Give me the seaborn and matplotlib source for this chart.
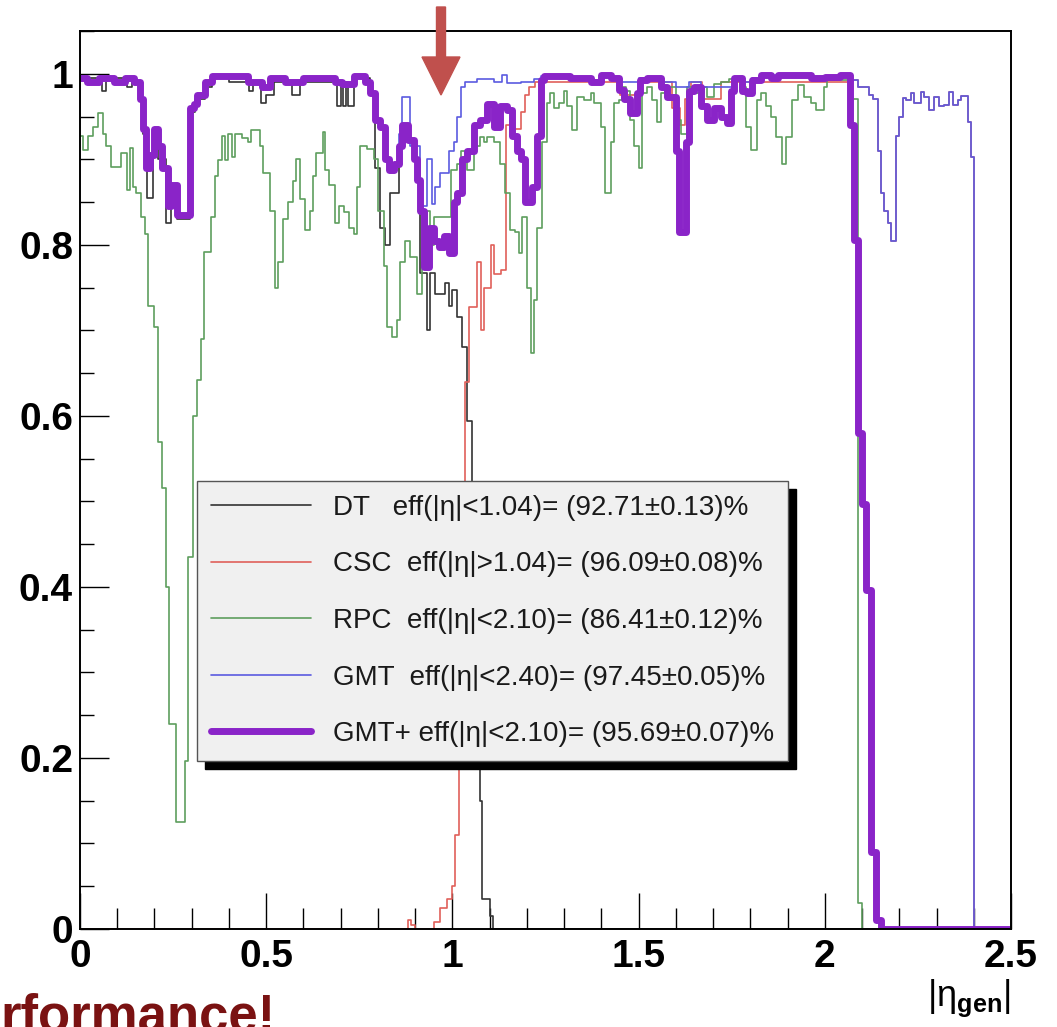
import numpy as np
import pandas as pd
import matplotlib
matplotlib.use("Agg")
import matplotlib.pyplot as plt
from matplotlib.patches import FancyArrow
from matplotlib.ticker import FixedLocator, MultipleLocator
import seaborn as sns

# ---------------- data ----------------
X_TICKS = [0, 0.5, 1, 1.5, 2, 2.5]
X_TICK_LABELS = ["0", "0.5", "1", "1.5", "2", "2.5"]
Y_TICKS = [0, 0.2, 0.4, 0.6, 0.8, 1.0]
Y_TICK_LABELS = ["0", "0.2", "0.4", "0.6", "0.8", "1"]

LABELS = [
    "DT   eff(|η|<1.04)= (92.71±0.13)%",
    "CSC  eff(|η|>1.04)= (96.09±0.08)%",
    "RPC  eff(|η|<2.10)= (86.41±0.12)%",
    "GMT  eff(|η|<2.40)= (97.45±0.05)%",
    "GMT+ eff(|η|<2.10)= (95.69±0.07)%",
]

DT_EDGES = [0, 0.06, 0.07, 0.125, 0.14, 0.16, 0.17, 0.18, 0.197, 0.21,
            0.232, 0.245, 0.26, 0.295, 0.31, 0.335, 0.355, 0.40, 0.455, 0.465,
            0.485, 0.50, 0.52, 0.57, 0.59, 0.69, 0.70, 0.705, 0.715, 0.72,
            0.735, 0.78, 0.793, 0.806, 0.82, 0.833, 0.856, 0.865, 0.882, 0.896,
            0.905, 0.914, 0.932, 0.941, 0.954, 0.981, 0.99, 0.999, 1.012, 1.026,
            1.039, 1.053, 1.063, 1.073, 1.08, 1.10, 1.11, 2.5]
DT_EFF = [0.995, 0.98, 0.995, 0.985, 0.99, 0.97, 0.93, 0.855, 0.93, 0.90,
          0.825, 0.86, 0.83, 0.955, 0.97, 0.985, 0.995, 0.99, 0.98, 0.99,
          0.966, 0.975, 0.99, 0.975, 0.99, 0.962, 0.99, 0.962, 0.99, 0.962,
          0.995, 0.977, 0.89, 0.82, 0.80, 0.86, 0.915, 0.94, 0.923, 0.90,
          0.876, 0.767, 0.70, 0.767, 0.743, 0.755, 0.728, 0.747, 0.716, 0.68,
          0.594, 0.45, 0.30, 0.15, 0.035, 0.015, 0.0]

CSC_EDGES = [0, 0.88, 0.89, 0.90, 0.95, 0.968, 0.986, 1.0, 1.008, 1.017,
             1.025, 1.033, 1.044, 1.067, 1.076, 1.085, 1.103, 1.112, 1.13, 1.143,
             1.16, 1.183, 1.195, 1.205, 1.222, 1.45, 1.50, 1.59, 1.61, 1.625,
             1.64, 1.67, 1.72, 2.068, 2.088, 2.12, 2.129, 2.142, 2.151, 2.16,
             2.169, 2.178, 2.191, 2.20, 2.209, 2.218, 2.231, 2.24, 2.258, 2.267,
             2.28, 2.294, 2.307, 2.321, 2.334, 2.343, 2.357, 2.366, 2.384, 2.393,
             2.40, 2.5]
CSC_EFF = [0.0, 0.01, 0.005, 0.0, 0.008, 0.025, 0.035, 0.05, 0.11, 0.30,
           0.50, 0.64, 0.727, 0.78, 0.70, 0.75, 0.80, 0.766, 0.77, 0.94,
           0.935, 0.955, 0.975, 0.985, 0.99, 0.975, 0.99, 0.96, 0.94, 0.97,
           0.99, 0.97, 0.99, 0.993, 0.985, 0.975, 0.97, 0.91, 0.86, 0.84,
           0.825, 0.804, 0.927, 0.95, 0.972, 0.969, 0.977, 0.966, 0.979, 0.973,
           0.958, 0.973, 0.962, 0.964, 0.979, 0.964, 0.969, 0.974, 0.944, 0.903,
           0.0]

RPC_EDGES = [0, 0.008, 0.0215, 0.035, 0.048, 0.062, 0.071, 0.084, 0.111, 0.125,
             0.134, 0.142, 0.151, 0.165, 0.174, 0.183, 0.20, 0.21, 0.22, 0.232,
             0.24, 0.259, 0.281, 0.29, 0.304, 0.313, 0.326, 0.332, 0.353, 0.362,
             0.371, 0.38, 0.389, 0.398, 0.407, 0.416, 0.434, 0.452, 0.46, 0.483,
             0.492, 0.51, 0.523, 0.532, 0.546, 0.559, 0.572, 0.58, 0.59, 0.604,
             0.617, 0.626, 0.635, 0.653, 0.659, 0.668, 0.685, 0.695, 0.708, 0.721,
             0.735, 0.744, 0.753, 0.77, 0.789, 0.80, 0.815, 0.824, 0.838, 0.851,
             0.86, 0.874, 0.887, 0.905, 0.918, 0.932, 0.941, 0.95, 0.995, 1.013,
             1.022, 1.039, 1.057, 1.075, 1.084, 1.093, 1.111, 1.129, 1.142, 1.156,
             1.169, 1.178, 1.187, 1.20, 1.21, 1.218, 1.227, 1.241, 1.254, 1.263,
             1.272, 1.286, 1.30, 1.308, 1.322, 1.335, 1.353, 1.371, 1.38, 1.398,
             1.411, 1.425, 1.434, 1.447, 1.456, 1.465, 1.478, 1.487, 1.501, 1.51,
             1.523, 1.537, 1.55, 1.559, 1.577, 1.60, 1.613, 1.631, 1.649, 1.676,
             1.685, 1.703, 1.72, 1.743, 1.774, 1.788, 1.801, 1.819, 1.828, 1.841,
             1.855, 1.868, 1.886, 1.895, 1.913, 1.927, 1.945, 1.962, 1.976, 1.998,
             2.007, 2.07, 2.088, 2.10, 2.5]
RPC_EFF = [0.927, 0.911, 0.927, 0.938, 0.954, 0.93, 0.915, 0.891, 0.907, 0.864,
           0.913, 0.868, 0.86, 0.833, 0.813, 0.728, 0.704, 0.57, 0.516, 0.40,
           0.24, 0.125, 0.197, 0.435, 0.60, 0.642, 0.69, 0.792, 0.833, 0.88,
           0.899, 0.927, 0.899, 0.93, 0.903, 0.93, 0.925, 0.92, 0.934, 0.915,
           0.884, 0.84, 0.75, 0.78, 0.83, 0.85, 0.875, 0.90, 0.853, 0.817,
           0.84, 0.88, 0.907, 0.932, 0.888, 0.87, 0.825, 0.845, 0.838, 0.82,
           0.813, 0.868, 0.915, 0.912, 0.90, 0.84, 0.775, 0.704, 0.692, 0.712,
           0.78, 0.805, 0.786, 0.743, 0.78, 0.84, 0.80, 0.833, 0.888, 0.895,
           0.91, 0.888, 0.915, 0.926, 0.92, 0.926, 0.92, 0.895, 0.86, 0.817,
           0.815, 0.79, 0.833, 0.75, 0.673, 0.735, 0.82, 0.92, 0.966, 0.977,
           0.96, 0.966, 0.98, 0.962, 0.934, 0.973, 0.969, 0.977, 0.966, 0.938,
           0.86, 0.92, 0.966, 0.969, 0.985, 0.98, 0.946, 0.915, 0.89, 0.977,
           0.985, 0.969, 0.944, 0.977, 0.985, 0.946, 0.93, 0.985, 0.977, 0.985,
           0.973, 0.988, 0.99, 0.994, 0.985, 0.938, 0.911, 0.969, 0.977, 0.962,
           0.95, 0.926, 0.895, 0.926, 0.969, 0.987, 0.973, 0.966, 0.958, 0.985,
           0.993, 0.97, 0.03, 0.0]

GMT_EDGES = [0, 0.02, 0.05, 0.09, 0.12, 0.145, 0.16, 0.17, 0.178, 0.188,
             0.20, 0.21, 0.22, 0.235, 0.245, 0.26, 0.295, 0.305, 0.315, 0.335,
             0.355, 0.45, 0.49, 0.51, 0.55, 0.60, 0.685, 0.703, 0.735, 0.766,
             0.78, 0.793, 0.806, 0.82, 0.829, 0.842, 0.856, 0.865, 0.887, 0.914,
             0.932, 0.946, 0.954, 0.968, 0.99, 1.004, 1.013, 1.022, 1.035, 1.066,
             1.111, 1.134, 1.147, 1.183, 1.219, 1.237, 1.317, 1.371, 1.398, 1.425,
             1.447, 1.50, 1.559, 1.60, 1.636, 1.667, 1.756, 1.778, 1.805, 1.828,
             1.962, 2.04, 2.068, 2.088, 2.12, 2.129, 2.142, 2.151, 2.16, 2.169,
             2.178, 2.191, 2.20, 2.209, 2.218, 2.231, 2.24, 2.258, 2.267, 2.28,
             2.294, 2.307, 2.321, 2.334, 2.343, 2.357, 2.366, 2.384, 2.393, 2.40,
             2.5]
GMT_EFF = [0.996, 0.991, 0.996, 0.991, 0.996, 0.991, 0.971, 0.936, 0.891, 0.906,
           0.936, 0.916, 0.891, 0.846, 0.871, 0.836, 0.961, 0.966, 0.976, 0.991,
           0.997, 0.991, 0.986, 0.996, 0.991, 0.996, 0.991, 0.989, 0.997, 0.991,
           0.977, 0.946, 0.938, 0.90, 0.888, 0.895, 0.93, 0.973, 0.915, 0.845,
           0.90, 0.848, 0.868, 0.884, 0.91, 0.92, 0.95, 0.985, 0.99, 0.994,
           0.99, 0.998, 0.989, 0.99, 0.994, 0.997, 0.995, 0.993, 0.998, 0.995,
           0.99, 0.995, 0.99, 0.985, 0.99, 0.985, 0.995, 0.99, 0.995, 0.998,
           0.995, 0.998, 0.993, 0.985, 0.975, 0.97, 0.91, 0.86, 0.84, 0.825,
           0.804, 0.927, 0.95, 0.972, 0.969, 0.977, 0.966, 0.979, 0.973, 0.958,
           0.973, 0.962, 0.964, 0.979, 0.964, 0.969, 0.974, 0.944, 0.903, 0.0]

GMTP_EDGES = [0, 0.02, 0.05, 0.09, 0.12, 0.145, 0.16, 0.17, 0.178, 0.188,
              0.20, 0.21, 0.22, 0.235, 0.245, 0.26, 0.295, 0.305, 0.315, 0.335,
              0.355, 0.45, 0.49, 0.51, 0.55, 0.60, 0.685, 0.703, 0.735, 0.766,
              0.78, 0.793, 0.806, 0.82, 0.829, 0.842, 0.856, 0.865, 0.882, 0.896,
              0.905, 0.914, 0.923, 0.936, 0.95, 0.963, 0.977, 0.99, 1.004, 1.013,
              1.026, 1.039, 1.057, 1.075, 1.093, 1.111, 1.129, 1.147, 1.16, 1.174,
              1.183, 1.196, 1.214, 1.228, 1.237, 1.246, 1.317, 1.371, 1.398, 1.425,
              1.447, 1.46, 1.478, 1.496, 1.505, 1.523, 1.559, 1.577, 1.60, 1.609,
              1.627, 1.636, 1.649, 1.667, 1.685, 1.703, 1.72, 1.738, 1.747, 1.756,
              1.778, 1.792, 1.805, 1.828, 1.855, 1.873, 1.962, 2.0, 2.04, 2.068,
              2.079, 2.088, 2.101, 2.11, 2.124, 2.137, 2.15, 2.5]
GMTP_EFF = [0.995, 0.99, 0.995, 0.99, 0.995, 0.99, 0.97, 0.935, 0.89, 0.905,
            0.935, 0.915, 0.89, 0.845, 0.87, 0.835, 0.96, 0.965, 0.975, 0.99,
            0.997, 0.99, 0.985, 0.995, 0.99, 0.995, 0.99, 0.988, 0.997, 0.99,
            0.977, 0.946, 0.938, 0.90, 0.888, 0.895, 0.915, 0.94, 0.923, 0.90,
            0.876, 0.84, 0.774, 0.82, 0.805, 0.797, 0.81, 0.79, 0.85, 0.86,
            0.90, 0.91, 0.94, 0.946, 0.965, 0.938, 0.962, 0.958, 0.927, 0.91,
            0.90, 0.85, 0.868, 0.927, 0.993, 0.997, 0.995, 0.99, 0.998, 0.995,
            0.981, 0.97, 0.954, 0.977, 0.993, 0.995, 0.985, 0.973, 0.91, 0.815,
            0.92, 0.98, 0.985, 0.962, 0.946, 0.96, 0.95, 0.942, 0.98, 0.995,
            0.98, 0.977, 0.993, 0.998, 0.995, 0.998, 0.995, 0.996, 0.998, 0.94,
            0.806, 0.58, 0.497, 0.396, 0.09, 0.01, 0.0]

COLORS = ["#333333", "#e0605a", "#5e9e5e", "#5b5be0", "#8a24c8"]
WIDTHS = [1.2, 1.2, 1.2, 1.2, 5.0]

# ---------------- style ----------------
sns.set_theme(style="ticks")
plt.rcParams["font.family"] = ["Liberation Sans", "DejaVu Sans"]
plt.rcParams["mathtext.fontset"] = "custom"
plt.rcParams["mathtext.rm"] = "Liberation Sans"
plt.rcParams["mathtext.it"] = "Liberation Sans"
plt.rcParams["mathtext.bf"] = "Liberation Sans:bold"
plt.rcParams["mathtext.default"] = "regular"

fig = plt.figure(figsize=(10.57, 10.27), dpi=100)
fig.patch.set_facecolor("white")
ax = fig.add_axes([80 / 1057, 98 / 1027, 931 / 1057, 898 / 1027])
ax.set_facecolor("white")

series = [
    (LABELS[0], DT_EDGES, DT_EFF),
    (LABELS[1], CSC_EDGES, CSC_EFF),
    (LABELS[2], RPC_EDGES, RPC_EFF),
    (LABELS[3], GMT_EDGES, GMT_EFF),
    (LABELS[4], GMTP_EDGES, GMTP_EFF),
]
for (label, edges, vals), color, lw in zip(series, COLORS, WIDTHS):
    df = pd.DataFrame({"eta": edges, "eff": list(vals) + [vals[-1]]})
    sns.lineplot(data=df, x="eta", y="eff", drawstyle="steps-post",
                 estimator=None, sort=False, color=color, linewidth=lw,
                 label=label, ax=ax)

ax.set_xlim(0, 2.5)
ax.set_ylim(0, 1.05)

ax.xaxis.set_major_locator(FixedLocator(X_TICKS))
ax.set_xticklabels(X_TICK_LABELS)
ax.xaxis.set_minor_locator(MultipleLocator(0.1))
ax.yaxis.set_major_locator(FixedLocator(Y_TICKS))
ax.set_yticklabels(Y_TICK_LABELS)
ax.yaxis.set_minor_locator(MultipleLocator(0.05))

ax.tick_params(axis="x", which="major", direction="in", length=26, width=1.0,
               pad=7, labelsize=28, bottom=True, top=False, color="black")
ax.tick_params(axis="x", which="minor", direction="in", length=15, width=1.0,
               bottom=True, top=False, color="black")
ax.tick_params(axis="y", which="major", direction="in", length=21, width=1.0,
               pad=5, labelsize=28, left=True, right=False, color="black")
ax.tick_params(axis="y", which="minor", direction="in", length=10, width=1.0,
               left=True, right=False, color="black")
for lab in ax.get_xticklabels() + ax.get_yticklabels():
    lab.set_fontweight("bold")
    lab.set_color("black")

for sp in ax.spines.values():
    sp.set_visible(True)
    sp.set_color("black")
    sp.set_linewidth(1.4)

ax.set_ylabel("")
ax.set_xlabel(r"$|\eta_{\mathbf{gen}}|$", loc="right", fontsize=26,
              labelpad=2, color="black")

leg = ax.legend(loc="upper left",
                bbox_to_anchor=((197 - 80) / 931, (929 - 481) / 898),
                borderaxespad=0, fontsize=20, frameon=True, fancybox=False,
                framealpha=1, facecolor="#f0f0f0", edgecolor="#555555",
                shadow={"ox": 5.8, "oy": -5.8, "facecolor": "black",
                        "edgecolor": "black", "alpha": 1},
                handlelength=3.6, handletextpad=0.8, labelspacing=1.1,
                borderpad=0.5)
for t in leg.get_texts():
    t.set_color("#1a1a1a")

# red arrow at the top
fig.add_artist(FancyArrow(4.41, 10.20, 0, -0.88, width=0.09, head_width=0.38,
                          head_length=0.38, length_includes_head=True,
                          color="#c0504d", transform=fig.dpi_scale_trans,
                          clip_on=False))

# cropped slide title at bottom-left (cut by the picture edge, as in the reference)
fig.text(0.0, -0.004, "rformance!", fontsize=38, fontweight="bold",
         color="#7a1212", ha="left", va="baseline")

fig.savefig("out.png", dpi=100)
